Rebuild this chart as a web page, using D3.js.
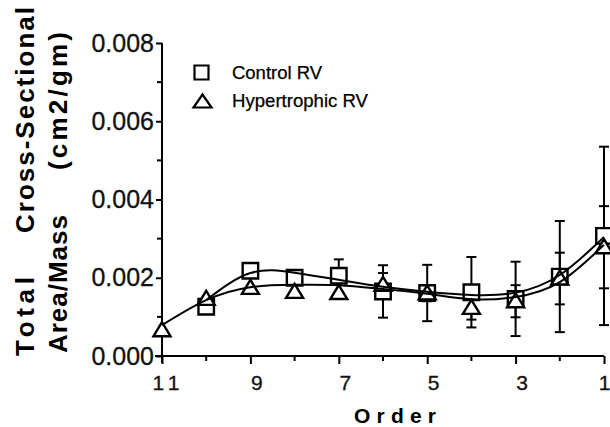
<!DOCTYPE html>
<html>
<head>
<meta charset="utf-8">
<script src="https://cdn.jsdelivr.net/npm/d3@7"></script>
<style>
  body { margin: 0; background: #fff; }
  svg { display: block; font-family: "Liberation Sans", Arial, sans-serif; }
</style>
</head>
<body>
<svg width="610" height="427"></svg>
<script>
// vessel order, 11 (smallest) on the left down to 1 on the right
var orders = [11, 10, 9, 8, 7, 6, 5, 4, 3, 2, 1];

// measured points (mean and SD), null = no point
var controlMean = [null, 0.00126, 0.00218, 0.00200, 0.00205, 0.00165, 0.00161, 0.00163, 0.00146, 0.00203, 0.00307];
var controlSD   = [null, 0, 0, 0, 0.00042, 0.00067, 0.00072, 0.00090, 0.00095, 0.00142, 0.00228];
var hyperMean   = [0.00066, 0.00146, 0.00174, 0.00164, 0.00161, 0.00182, 0.00160, 0.00123, 0.00140, 0.00198, 0.00278];
var hyperSD     = [0, 0, 0, 0, 0, 0.00030, 0.00020, 0.00030, 0.00041, 0.00066, 0.00105];

// fitted curves
var controlFit  = [null, 0.00143, 0.00212, 0.00213, 0.00195, 0.00177, 0.00164, 0.00156, 0.00162, 0.00207, 0.00304];
var hyperFit    = [0.00079, 0.00143, 0.00176, 0.00182, 0.00181, 0.00171, 0.00159, 0.00145, 0.00151, 0.00189, 0.00284];

var yTicks = [0, 0.002, 0.004, 0.006, 0.008];
var yMinor = [0.001, 0.003, 0.005, 0.007];
var xTicks = [11, 9, 7, 5, 3, 1];
var xMinor = [10, 8, 6, 4, 2];

var svg = d3.select('svg');

var x = d3.scaleLinear().domain([11, 1]).range([162, 604]);
var y = d3.scaleLinear().domain([0, 0.008]).range([356, 43]);

// axes
var yAxis = svg.append('g')
    .attr('transform', 'translate(162,0)')
    .call(d3.axisLeft(y).tickValues(yTicks).tickSize(6).tickPadding(2).tickFormat(d3.format('.3f')));
yAxis.append('g').selectAll('line')
    .data(yMinor).enter().append('line')
    .attr('x1', -5).attr('x2', 0)
    .attr('y1', function(d) { return y(d); })
    .attr('y2', function(d) { return y(d); });

var xAxis = svg.append('g')
    .attr('transform', 'translate(0,356)')
    .call(d3.axisBottom(x).tickValues(xTicks).tickSize(8).tickPadding(11).tickFormat(d3.format('d')));
xAxis.append('g').selectAll('line')
    .data(xMinor).enter().append('line')
    .attr('y1', 0).attr('y2', 5)
    .attr('x1', function(d) { return x(d); })
    .attr('x2', function(d) { return x(d); });

yAxis.select('.domain').attr('d', 'M0,43V363');
xAxis.select('.domain').attr('d', 'M155,0H604');
svg.selectAll('.domain').attr('stroke', '#000').attr('stroke-width', 2);
svg.selectAll('line').attr('stroke', '#000').attr('stroke-width', 2);

yAxis.selectAll('text')
    .attr('font-size', 25)
    .attr('font-family', '"Liberation Sans", Arial, sans-serif')
    .attr('fill', '#111')
    .attr('stroke', '#111').attr('stroke-width', 0.3);
xAxis.selectAll('.tick text')
    .attr('font-size', 21)
    .attr('dx', function(d) { return d == 1 ? 0 : 6; })
    .attr('letter-spacing', function(d) { return d >= 10 ? 5 : 0; })
    .attr('font-family', '"Liberation Sans", Arial, sans-serif')
    .attr('fill', '#111')
    .attr('stroke', '#111').attr('stroke-width', 0.3);

// error bars
function errorBars(means, sds) {
    var pts = orders.map(function(o, i) { return {o: o, m: means[i], s: sds[i]}; })
        .filter(function(d) { return d.m !== null && d.s > 0; });
    var g = svg.append('g').attr('stroke', '#000').attr('stroke-width', 2);
    pts.forEach(function(d) {
        var cx = x(d.o);
        g.append('line').attr('x1', cx).attr('x2', cx)
            .attr('y1', y(d.m - d.s)).attr('y2', y(d.m + d.s));
        [d.m - d.s, d.m + d.s].forEach(function(v) {
            g.append('line').attr('x1', cx - 5).attr('x2', cx + 5)
                .attr('y1', y(v)).attr('y2', y(v));
        });
    });
}
errorBars(controlMean, controlSD);
errorBars(hyperMean, hyperSD);

// markers
var square = d3.symbol().type(d3.symbolSquare).size(240);
var triangle = 'M0,-8L8.5,6L-8.5,6Z';

svg.append('g').selectAll('path')
    .data(orders.map(function(o, i) { return {o: o, v: controlMean[i]}; })
        .filter(function(d) { return d.v !== null; }))
    .enter().append('path')
    .attr('d', square)
    .attr('transform', function(d) { return 'translate(' + x(d.o) + ',' + y(d.v) + ')'; })
    .attr('fill', '#fff').attr('stroke', '#000').attr('stroke-width', 2.4);

svg.append('g').selectAll('path')
    .data(orders.map(function(o, i) { return {o: o, v: hyperMean[i]}; }))
    .enter().append('path')
    .attr('d', triangle)
    .attr('transform', function(d) { return 'translate(' + x(d.o) + ',' + y(d.v) + ')'; })
    .attr('fill', '#fff').attr('stroke', '#000').attr('stroke-width', 2.4);

// fitted curves
var line = d3.line()
    .defined(function(d) { return d.v !== null; })
    .x(function(d) { return x(d.o); })
    .y(function(d) { return y(d.v); })
    .curve(d3.curveNatural);

[controlFit, hyperFit].forEach(function(fit) {
    var pts = orders.map(function(o, i) { return {o: o, v: fit[i]}; })
        .filter(function(d) { return d.v !== null; });
    svg.append('path')
        .datum(pts)
        .attr('d', line)
        .attr('fill', 'none')
        .attr('stroke', '#000')
        .attr('stroke-width', 2);
});

// legend
var legend = svg.append('g');
legend.append('path').attr('d', d3.symbol().type(d3.symbolSquare).size(196))
    .attr('transform', 'translate(201.5,72.5)')
    .attr('fill', '#fff').attr('stroke', '#000').attr('stroke-width', 2.2);
legend.append('path').attr('d', 'M0,-7L9,6L-9,6Z')
    .attr('transform', 'translate(202.5,101.5)')
    .attr('fill', '#fff').attr('stroke', '#000').attr('stroke-width', 2.2);
legend.append('text').attr('x', 232).attr('y', 79)
    .attr('font-size', 17.5).attr('textLength', 90).attr('lengthAdjust', 'spacingAndGlyphs')
    .attr('stroke', '#000').attr('stroke-width', 0.25)
    .text('Control RV');
legend.append('text').attr('x', 232).attr('y', 107)
    .attr('font-size', 17.5).attr('textLength', 136).attr('lengthAdjust', 'spacingAndGlyphs')
    .attr('stroke', '#000').attr('stroke-width', 0.25)
    .text('Hypertrophic RV');

// axis titles
svg.append('text')
    .attr('x', 354).attr('y', 423)
    .attr('font-size', 21).attr('font-weight', 'bold')
    .attr('textLength', 82).attr('lengthAdjust', 'spacing')
    .text('Order');

function vText(str, baseX, bottomY, len) {
    svg.append('text')
        .attr('transform', 'translate(' + baseX + ',' + bottomY + ') rotate(-90)')
        .attr('font-size', 26).attr('font-weight', 'bold')
        .attr('textLength', len).attr('lengthAdjust', 'spacing')
        .text(str);
}
vText('Total', 34, 356, 79);
vText('Cross-Sectional', 34, 233, 226);
vText('Area/Mass', 67, 353, 138);
vText('(cm2/gm)', 67, 170, 138);
</script>
</body>
</html>
